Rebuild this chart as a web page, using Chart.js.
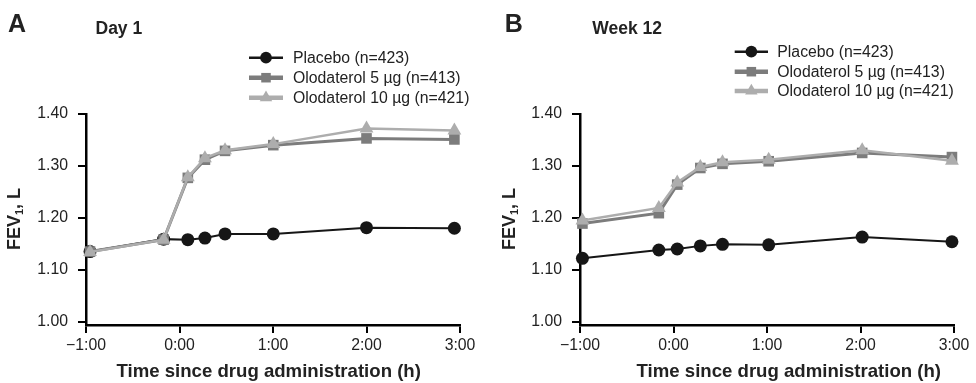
<!DOCTYPE html>
<html>
<head>
<meta charset="utf-8">
<script src="https://cdn.jsdelivr.net/npm/chart.js@4.4.1/dist/chart.umd.min.js"></script>
<style>
  html, body { margin: 0; padding: 0; background: #fff; }
  #wrap { position: relative; width: 976px; height: 383px; }
  .panel { position: absolute; top: 0; width: 488px; height: 383px; }
</style>
</head>
<body>
<div id="wrap">
  <div class="panel" style="left:0"><canvas id="chartA" width="488" height="383"></canvas></div>
  <div class="panel" style="left:488px"><canvas id="chartB" width="488" height="383"></canvas></div>
</div>
<script>
// series names + axis ticks
const seriesNames = ['Placebo (n=423)', 'Olodaterol 5 µg (n=413)', 'Olodaterol 10 µg (n=421)'];
const xTickValues = [-1, 0, 1, 2, 3];
const yTickValues = [1.00, 1.10, 1.20, 1.30, 1.40];

// Day 1 (hours since dosing, FEV1 in L)
const timesDay1 = [-0.957, -0.17, 0.089, 0.272, 0.487, 1.003, 2.0, 2.94];
const placeboDay1 = [1.135, 1.159, 1.158, 1.161, 1.169, 1.169, 1.181, 1.180];
const olo5Day1 = [1.135, 1.158, 1.277, 1.312, 1.329, 1.340, 1.353, 1.351];
const olo10Day1 = [1.134, 1.158, 1.278, 1.315, 1.330, 1.342, 1.372, 1.368];

// Week 12
const timesWeek12 = [-0.974, -0.157, 0.04, 0.287, 0.524, 1.018, 2.018, 2.978];
const placeboWeek12 = [1.122, 1.138, 1.140, 1.146, 1.149, 1.148, 1.163, 1.154];
const olo5Week12 = [1.189, 1.209, 1.264, 1.296, 1.304, 1.309, 1.325, 1.317];
const olo10Week12 = [1.195, 1.219, 1.268, 1.298, 1.307, 1.312, 1.330, 1.310];

const FONT = '"Liberation Sans", Arial, Helvetica, sans-serif';
const TXT = '#222';
const TICK_SIZE = 15.8;

function points(times, vals) {
  return times.map((t, i) => ({ x: t, y: vals[i] }));
}

function fmtTime(v) {
  const h = Math.abs(v);
  return (v < 0 ? '\u22121' : String(h)) + ':00';
}

// titles, legend, axis labels drawn on top
function extrasPlugin(p) {
  return {
    id: 'extras',
    afterDraw(chart) {
      const ctx = chart.ctx;
      ctx.save();
      ctx.fillStyle = TXT;
      ctx.textBaseline = 'alphabetic';
      ctx.textAlign = 'left';
      ctx.font = 'bold 25px ' + FONT;
      ctx.fillText(p.letter, p.letterX, 32);
      ctx.font = 'bold 17.5px ' + FONT;
      ctx.fillText(p.subtitle, p.subX, 34);

      // legend
      chart.data.datasets.forEach((ds, i) => {
        const y = p.legendY[i];
        ctx.strokeStyle = ds.borderColor;
        ctx.lineWidth = i === 0 ? 2.5 : 4.5;
        ctx.beginPath();
        ctx.moveTo(p.legendX0, y);
        ctx.lineTo(p.legendX1, y);
        ctx.stroke();
        ctx.fillStyle = ds.backgroundColor;
        ctx.strokeStyle = ds.backgroundColor;
        Chart.helpers.drawPoint(ctx, {
          pointStyle: ds.pointStyle, rotation: 0,
          radius: ds.pointRadius * 0.9, borderWidth: 0
        }, (p.legendX0 + p.legendX1) / 2, y);
        ctx.fillStyle = TXT;
        ctx.font = TICK_SIZE + 'px ' + FONT;
        ctx.textBaseline = 'middle';
        ctx.fillText(seriesNames[i], p.legendTextX, y + 0.5);
      });

      // x axis title
      ctx.textAlign = 'center';
      ctx.textBaseline = 'middle';
      ctx.font = 'bold 18.6px ' + FONT;
      ctx.fillText('Time since drug administration (h)', p.xTitleX, 371.5);

      // y axis title with subscript
      ctx.translate(p.yTitleX, 219);
      ctx.rotate(-Math.PI / 2);
      ctx.textAlign = 'left';
      ctx.textBaseline = 'middle';
      const big = 'bold 18px ' + FONT, small = 'bold 11px ' + FONT;
      ctx.font = big; const w1 = ctx.measureText('FEV').width;
      ctx.font = small; const w2 = ctx.measureText('1').width;
      ctx.font = big; const w3 = ctx.measureText(', L').width;
      let x = -(w1 + w2 + w3) / 2;
      ctx.fillText('FEV', x, 0); x += w1;
      ctx.font = small; ctx.fillText('1', x, 5); x += w2;
      ctx.font = big; ctx.fillText(', L', x, 0);
      ctx.restore();
    }
  };
}

function makeChart(id, times, placebo, olo5, olo10, p) {
  return new Chart(document.getElementById(id), {
    type: 'line',
    data: {
      datasets: [
        {
          label: seriesNames[0], data: points(times, placebo),
          borderColor: '#161616', backgroundColor: '#161616',
          borderWidth: 2, pointStyle: 'circle', pointRadius: 6.5,
          pointBorderWidth: 0, order: 3, clip: false
        },
        {
          label: seriesNames[1], data: points(times, olo5),
          borderColor: '#7c7c7c', backgroundColor: '#7c7c7c',
          borderWidth: 3, pointStyle: 'rect', pointRadius: 7.5,
          pointBorderWidth: 0, order: 2, clip: false
        },
        {
          label: seriesNames[2], data: points(times, olo10),
          borderColor: '#adadad', backgroundColor: '#adadad',
          borderWidth: 2.5, pointStyle: 'triangle', pointRadius: 8,
          pointBorderWidth: 0, order: 1, clip: false
        }
      ]
    },
    options: {
      responsive: false,
      animation: false,
      devicePixelRatio: 1,
      layout: { padding: { left: 0, right: p.padRight, top: 114, bottom: 0 } },
      plugins: { legend: { display: false }, tooltip: { enabled: false } },
      elements: { line: { tension: 0 } },
      scales: {
        x: {
          type: 'linear', min: -1, max: 3,
          afterBuildTicks: s => { s.ticks = xTickValues.map(v => ({ value: v })); },
          afterFit: s => { s.height = 58; },
          ticks: {
            callback: v => fmtTime(v), color: TXT, padding: 3, maxRotation: 0,
            font: { family: FONT, size: TICK_SIZE }
          },
          grid: { drawOnChartArea: false, drawTicks: true, tickLength: 8, color: '#000', lineWidth: 2 },
          border: { color: '#000', width: 2.5 }
        },
        y: {
          type: 'linear', min: 0.9936, max: 1.40,
          afterBuildTicks: s => { s.ticks = yTickValues.map(v => ({ value: v })); },
          afterFit: s => { s.width = p.yWidth; },
          ticks: {
            callback: v => v.toFixed(2), color: TXT, padding: 10,
            font: { family: FONT, size: TICK_SIZE }
          },
          grid: { drawOnChartArea: false, drawTicks: true, tickLength: 8, color: '#000', lineWidth: 2 },
          border: { color: '#000', width: 2.5 }
        }
      }
    },
    plugins: [extrasPlugin(p)]
  });
}

makeChart('chartA', timesDay1, placeboDay1, olo5Day1, olo10Day1, {
  letter: 'A', letterX: 8, subtitle: 'Day 1', subX: 95.5,
  legendX0: 249, legendX1: 283, legendTextX: 293, legendY: [57.7, 77.7, 97.7],
  xTitleX: 268.7, yTitleX: 15, yWidth: 86, padRight: 28
});

makeChart('chartB', timesWeek12, placeboWeek12, olo5Week12, olo10Week12, {
  letter: 'B', letterX: 16.7, subtitle: 'Week 12', subX: 104.3,
  legendX0: 246.7, legendX1: 280, legendTextX: 289.3, legendY: [51.7, 71.7, 91],
  xTitleX: 300.8, yTitleX: 21.7, yWidth: 92, padRight: 22
});
</script>
</body>
</html>
